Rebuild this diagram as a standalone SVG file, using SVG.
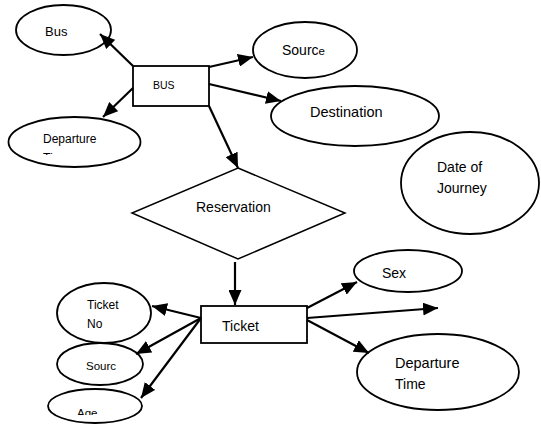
<svg xmlns="http://www.w3.org/2000/svg" width="541" height="425" viewBox="0 0 541 425">
<style>
.sh{fill:#fff;stroke:#000;stroke-width:1.8}
.ln{fill:none;stroke:#000;stroke-width:2.2;marker-end:url(#ah)}
text{font-family:"Liberation Sans",Arial,sans-serif;font-size:14px;fill:#000}
.s{font-size:12px}
</style>
<defs>
<marker id="ah" markerUnits="userSpaceOnUse" markerWidth="15" markerHeight="13" refX="15" refY="6.5" orient="auto">
<path d="M0,0 L15,6.5 L0,13 z" fill="#000"/>
</marker>
<clipPath id="c1"><rect x="0" y="0" width="200" height="155"/></clipPath>
<clipPath id="c2"><rect x="0" y="380" width="200" height="35"/></clipPath>
</defs>
<rect width="541" height="425" fill="#fff"/>
<g id="n-bus"><ellipse class="sh" cx="63.5" cy="30" rx="47.5" ry="25"/><text x="45" y="36" style="font-size:13px">Bus</text></g>
<g id="n-BUS"><rect class="sh" x="133" y="66" width="76" height="40"/><text x="153" y="89" style="font-size:10.5px">BUS</text></g>
<g id="n-deptime1"><ellipse class="sh" cx="74.5" cy="142" rx="66" ry="25"/><text x="43" y="143" class="s">Departure</text><text x="43" y="162" class="s" clip-path="url(#c1)">Time</text></g>
<g id="n-source"><ellipse class="sh" cx="305" cy="50" rx="52" ry="28"/><text x="282" y="55">Sourc<tspan style="font-size:11.5px">e</tspan></text></g>
<g id="n-destination"><ellipse class="sh" cx="355" cy="116" rx="84" ry="30"/><text x="310" y="117" style="font-size:14.5px">Destination</text></g>
<g id="n-date"><ellipse class="sh" cx="470" cy="183" rx="69" ry="51"/><text x="437" y="172">Date of</text><text x="437" y="193">Journey</text></g>
<g id="n-reservation"><polygon class="sh" points="238,168 345,213 238,259 132,213" style="stroke-width:1.5"/><text x="196" y="212">Reservation</text></g>
<g id="n-ticket"><rect class="sh" x="201" y="306" width="106" height="37"/><text x="222" y="331">Ticket</text></g>
<g id="n-ticketno"><ellipse class="sh" cx="104" cy="313" rx="47" ry="30"/><text x="87" y="309" class="s">Ticket</text><text x="87" y="328" class="s">No</text></g>
<g id="n-sourc"><ellipse class="sh" cx="100" cy="364" rx="43" ry="21"/><text x="86" y="370" style="font-size:11.5px">Sourc</text></g>
<g id="n-age"><ellipse class="sh" cx="95" cy="406" rx="47" ry="17"/><text x="77" y="417" style="font-size:11.5px" clip-path="url(#c2)">Age</text></g>
<g id="n-sex"><ellipse class="sh" cx="408" cy="271" rx="54" ry="21"/><text x="382" y="278">Sex</text></g>
<g id="n-deptime2"><ellipse class="sh" cx="438" cy="372" rx="81" ry="38"/><text x="395" y="368" style="font-size:14.5px">Departure</text><text x="395" y="389">Time</text></g>
<g id="connectors">
<path class="ln" d="M133,66 L100,34"/>
<path class="ln" d="M133,88 L103,117"/>
<path class="ln" d="M209,67 L253,57"/>
<path class="ln" d="M209,84 L281,101"/>
<path class="ln" d="M209,106 L238,168"/>
<path class="ln" d="M235,262 L235,305"/>
<path class="ln" d="M201,318 L152,306"/>
<path class="ln" d="M201,318 L136,354"/>
<path class="ln" d="M201,318 L141,398"/>
<path class="ln" d="M307,308 L357,282"/>
<path class="ln" d="M307,318 L438,308"/>
<path class="ln" d="M307,320 L369,353"/>
</g>
</svg>
